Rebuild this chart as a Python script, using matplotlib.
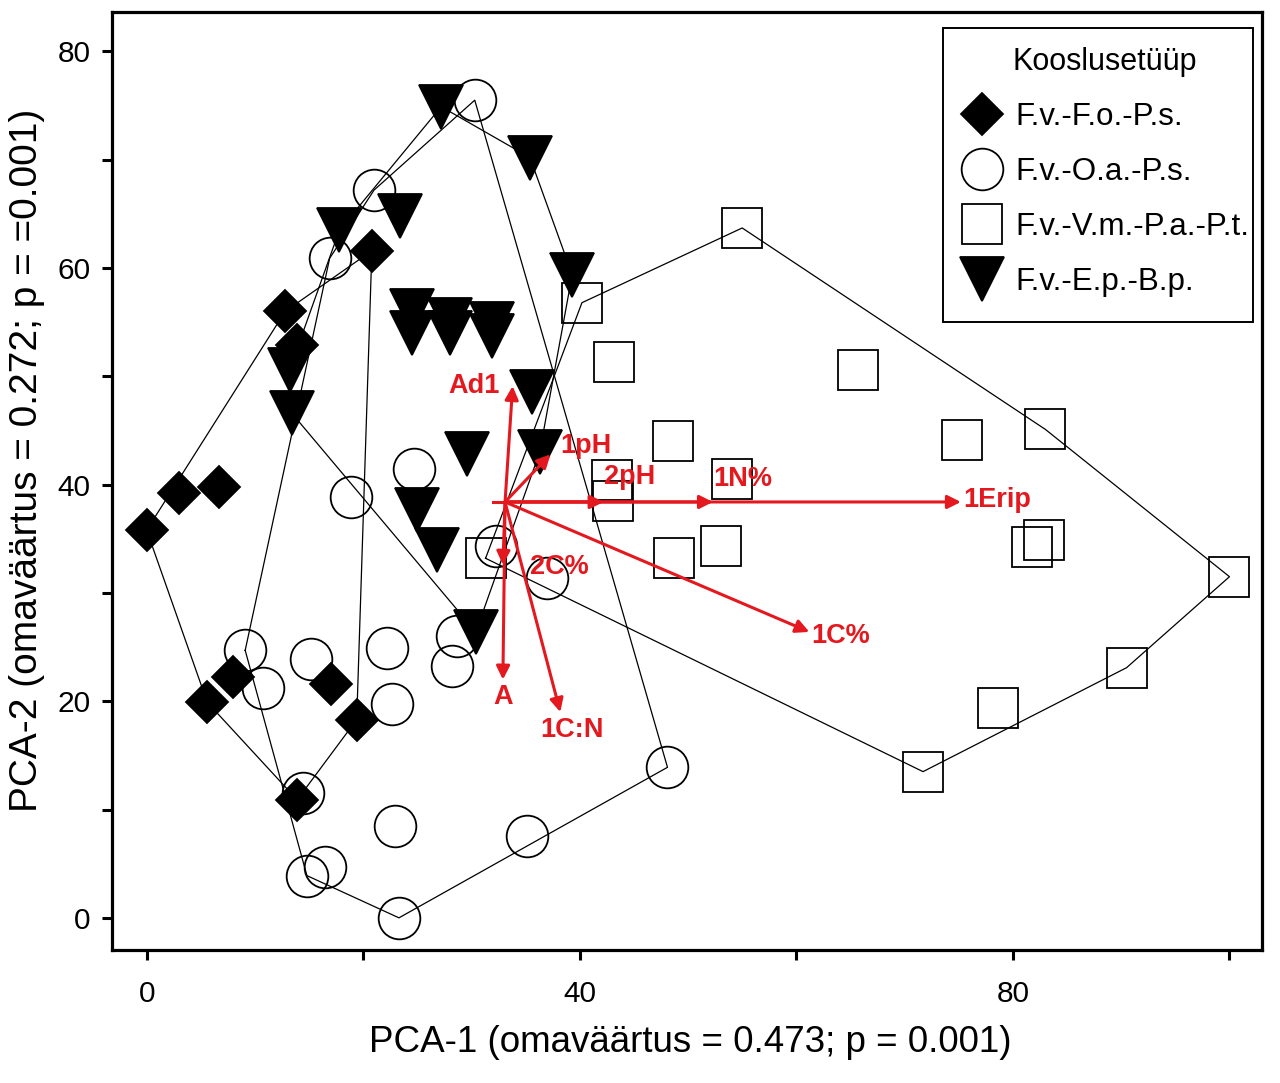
import numpy as np
import matplotlib
matplotlib.use("Agg")
import matplotlib.pyplot as plt
from matplotlib.lines import Line2D
from matplotlib.patches import Rectangle

plt.rcParams['font.family'] = ['Liberation Sans', 'DejaVu Sans']

# site scores (PCA-1, PCA-2)
fo_x = [0.0, 3.0, 6.7, 12.8, 13.9, 20.8, 5.6, 8.0, 17.0, 19.4, 13.9]
fo_y = [35.8, 39.2, 39.8, 56.0, 52.9, 61.6, 19.9, 22.2, 21.6, 18.3, 10.9]

oa_x = [30.3, 21.0, 16.9, 24.7, 18.9, 32.3, 37.0, 9.1, 10.7, 15.2, 22.2,
        22.7, 28.7, 28.2, 14.4, 22.9, 14.8, 16.5, 23.3, 35.1, 48.1]
oa_y = [75.5, 67.2, 60.9, 41.4, 38.9, 34.3, 31.4, 24.7, 21.2, 23.9, 24.9,
        19.7, 26.0, 23.3, 11.5, 8.5, 3.9, 4.7, 0.0, 7.6, 13.9]

vm_x = [55.0, 40.2, 43.2, 65.7, 48.6, 75.3, 83.0, 43.0, 43.1, 54.1, 48.7,
        53.0, 31.3, 81.8, 82.9, 100.0, 90.5, 78.6, 71.7]
vm_y = [63.7, 56.8, 51.3, 50.6, 44.0, 44.1, 45.1, 40.4, 38.5, 40.5, 33.2,
        34.3, 33.2, 34.2, 34.9, 31.5, 23.1, 19.4, 13.5]

ep_x = [27.2, 35.4, 17.8, 23.4, 39.3, 24.5, 24.5, 28.0, 28.0, 31.9, 31.9,
        35.6, 29.6, 36.3, 13.2, 13.4, 25.0, 26.8, 30.4]
ep_y = [74.9, 70.2, 63.5, 64.8, 59.4, 56.0, 54.0, 55.2, 54.0, 54.8, 53.7,
        48.6, 42.8, 43.0, 50.6, 46.6, 37.7, 34.0, 26.4]

group_names = ['F.v.-F.o.-P.s.', 'F.v.-O.a.-P.s.', 'F.v.-V.m.-P.a.-P.t.', 'F.v.-E.p.-B.p.']
legend_title = 'Kooslusetüüp'

# environmental vectors
vec_origin = (33.1, 38.4)
vec_names = ['Ad1', '1pH', '2pH', '1N%', '1Erip', '1C%', '2C%', 'A', '1C:N']
vec_x = [33.8, 37.3, 42.2, 52.3, 75.2, 61.2, 32.9, 32.9, 38.2]
vec_y = [49.1, 42.8, 38.4, 38.4, 38.4, 26.4, 32.6, 22.0, 19.0]

xticks = [0, 20, 40, 60, 80, 100]
xticklabels = ['0', '', '40', '', '80', '']
yticks = [0, 10, 20, 30, 40, 50, 60, 70, 80]
yticklabels = ['0', '', '20', '', '40', '', '60', '', '80']

xlab = 'PCA-1 (omaväärtus = 0.473; p = 0.001)'
ylab = 'PCA-2 (omaväärtus = 0.272; p = =0.001)'


def hull(xs, ys):
    # monotone chain convex hull
    pts = sorted(set(zip(xs, ys)))

    def cross(o, a, b):
        return (a[0]-o[0])*(b[1]-o[1]) - (a[1]-o[1])*(b[0]-o[0])
    lower, upper = [], []
    for p in pts:
        while len(lower) >= 2 and cross(lower[-2], lower[-1], p) <= 0:
            lower.pop()
        lower.append(p)
    for p in reversed(pts):
        while len(upper) >= 2 and cross(upper[-2], upper[-1], p) <= 0:
            upper.pop()
        upper.append(p)
    h = lower[:-1] + upper[:-1]
    h.append(h[0])
    return np.array(h)


red = '#e3191f'
fig = plt.figure(figsize=(12.8, 10.83), dpi=100)
ax = fig.add_axes([0.0875, 0.123, 0.8984, 0.866])

groups = [(fo_x, fo_y), (oa_x, oa_y), (vm_x, vm_y), (ep_x, ep_y)]
styles = [dict(marker='D', ms=21.5, mfc='black', mec='black'),
          dict(marker='o', ms=30, mfc='none', mec='black'),
          dict(marker='s', ms=28.5, mfc='none', mec='black'),
          dict(marker='v', ms=31, mfc='black', mec='black')]

for (gx, gy) in groups:
    h = hull(gx, gy)
    ax.plot(h[:, 0], h[:, 1], color='black', lw=0.9, zorder=2)

handles = []
for (gx, gy), st, name in zip(groups, styles, group_names):
    ax.plot(gx, gy, ls='none', mew=1.3, zorder=3, **st)
    handles.append(Line2D([], [], ls='none', mew=1.3, label=name, **st))

# vectors
ox, oy = vec_origin
ax.plot([ox - 1.1, ox], [oy, oy], color=red, lw=2.2, zorder=4)
offsets = {'Ad1': (-9, 0, 'right'),
           '1pH': (7, 6, 'left'),
           '2pH': (0, 18, 'left'),
           '1N%': (0, 16.5, 'left'),
           '1Erip': (2, 1.5, 'left'),
           '1C%': (1.5, -3, 'left'),
           '2C%': (19.5, -1.5, 'left'),
           'A': (0, -12.5, 'center'),
           '1C:N': (8.6, -13, 'center')}
for name, vx, vy in zip(vec_names, vec_x, vec_y):
    ax.annotate('', xy=(vx, vy), xytext=(ox, oy),
                arrowprops=dict(arrowstyle='-|>', color=red, lw=2.2,
                                mutation_scale=20, shrinkA=0, shrinkB=0),
                zorder=4)
    dx, dy, ha = offsets[name]
    ax.annotate(name, xy=(vx, vy), xytext=(dx, dy), textcoords='offset points',
                ha=ha, va='center', color=red, fontsize=19.5, fontweight='bold',
                zorder=5)

ax.set_xlim(-3.2, 103.0)
ax.set_ylim(-2.95, 83.65)
ax.set_xticks(xticks)
ax.set_xticklabels(xticklabels)
ax.set_yticks(yticks)
ax.set_yticklabels(yticklabels)
ax.tick_params(direction='out', length=7.5, width=2.2, labelsize=21.5, pad=8)
ax.tick_params(axis='x', pad=14)
for s in ax.spines.values():
    s.set_linewidth(2.3)
ax.set_xlabel(xlab, fontsize=26.5)
ax.set_ylabel(ylab, fontsize=28)
ax.xaxis.set_label_coords(0.503, -0.080)
ax.yaxis.set_label_coords(-0.058, 0.522)

# legend box drawn separately, it is taller than matplotlib's padding allows
ax.add_patch(Rectangle((0.7226, 0.6695), 0.2696, 0.3134, transform=ax.transAxes,
                       facecolor='white', edgecolor='black', lw=1.4, zorder=6))
leg = ax.legend(handles=handles, title=legend_title, loc='upper left',
                bbox_to_anchor=(0.737, 0.9627), fontsize=22.5, title_fontsize=22,
                frameon=False, borderpad=0, labelspacing=0.8, handletextpad=0.34,
                handlelength=1.45, borderaxespad=0, markerscale=1.0)
leg.set_zorder(7)

fig.savefig('out.png', dpi=100)
